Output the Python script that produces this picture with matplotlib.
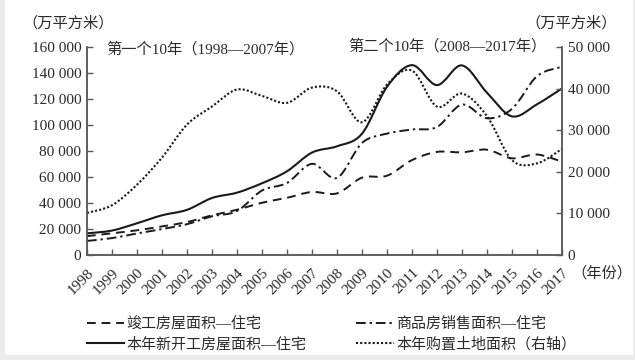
import numpy as np
import matplotlib
matplotlib.use("Agg")
import matplotlib.pyplot as plt
from matplotlib.path import Path
from matplotlib.patches import PathPatch, Rectangle
from matplotlib.lines import Line2D

plt.rcParams['font.family'] = ['Liberation Serif', 'Noto Sans CJK SC', 'DejaVu Sans']

years = list(range(1998, 2018))
# 万平方米
completed = [14500, 16700, 19000, 22000, 25300, 30500, 34800, 40200, 44000, 48500,
             47400, 59500, 61000, 73000, 79300, 79000, 81000, 74400, 77300, 71800]
sales = [10827, 12998, 16570, 19939, 23702, 29779, 33820, 49588, 55423, 70136,
         59280, 86185, 93377, 96528, 98468, 115723, 105188, 112406, 137540, 144789]
new_start = [16638, 18798, 24401, 30533, 34719, 43854, 47949, 55185, 64404, 78796,
             83642, 93298, 129359, 146035, 130695, 145845, 124877, 106651, 115911, 128098]
land = [10109, 11959, 16905, 23409, 31357, 35697, 39785, 38254, 36574, 40246,
        39353, 31910, 40970, 44327, 35667, 38814, 33383, 22811, 22025, 25508]

labels = ["竣工房屋面积—住宅", "本年新开工房屋面积—住宅",
          "商品房销售面积—住宅", "本年购置土地面积（右轴）"]

INK = "#1a1a1a"
GRAY = "#5a5a5a"


def smooth_path(xs, ys):
    # catmull-rom through the points, drawn as bezier curves
    p = np.column_stack([xs, ys]).astype(float)
    p = np.vstack([p[0], p, p[-1]])
    verts = [p[1]]
    codes = [Path.MOVETO]
    for i in range(1, len(p) - 2):
        c1 = p[i] + (p[i + 1] - p[i - 1]) / 6.0
        c2 = p[i + 1] - (p[i + 2] - p[i]) / 6.0
        verts += [c1, c2, p[i + 1]]
        codes += [Path.CURVE4] * 3
    return Path(verts, codes)


fig = plt.figure(figsize=(6.35, 3.6), dpi=100)
fig.patch.set_facecolor("#ececec")
fig.patches.append(Rectangle((0.008, 0.014), 0.989, 0.986, transform=fig.transFigure,
                             facecolor="white", edgecolor="none", zorder=-1))

ax = fig.add_axes([0.137, 0.2917, 0.748, 0.5777])
ax.set_facecolor("none")
ax2 = ax.twinx()

styles = {
    "completed": dict(linestyle=(0, (4.5, 3)), linewidth=1.4),
    "new_start": dict(linestyle="-", linewidth=1.5),
    "sales": dict(linestyle=(0, (5, 2, 1.2, 2)), linewidth=1.4),
    "land": dict(linestyle=(0, (1, 1)), linewidth=1.5),
}

ax.add_patch(PathPatch(smooth_path(years, completed), fill=False, edgecolor=INK, **styles["completed"]))
ax.add_patch(PathPatch(smooth_path(years, sales), fill=False, edgecolor=INK, **styles["sales"]))
ax.add_patch(PathPatch(smooth_path(years, new_start), fill=False, edgecolor=INK, **styles["new_start"]))
ax2.add_patch(PathPatch(smooth_path(years, land), fill=False, edgecolor=INK, **styles["land"]))

ax.set_xlim(1998, 2017)
ax.set_ylim(0, 160000)
ax2.set_ylim(0, 50000)

ax.set_yticks(range(0, 160001, 20000))
ax.set_yticklabels(["0" if v == 0 else f"{v // 1000} 000" for v in range(0, 160001, 20000)])
ax2.set_yticks(range(0, 50001, 10000))
ax2.set_yticklabels(["0" if v == 0 else f"{v // 1000} 000" for v in range(0, 50001, 10000)])
ax.set_xticks(years)
ax.set_xticklabels([str(y) for y in years], rotation=45, ha="right", va="top",
                   rotation_mode="anchor")

for a in (ax, ax2):
    a.spines["top"].set_visible(False)
    for s in ("left", "right", "bottom"):
        a.spines[s].set_color(GRAY)
        a.spines[s].set_linewidth(1.1)
    a.tick_params(direction="in", length=4.5, width=1.0, color=GRAY,
                  labelsize=11, labelcolor="#2a2a2a", pad=4)
ax.tick_params(axis="x", pad=8)

fig.text(0.036, 0.935, "（万平方米）", fontsize=11, color="#2a2a2a", va="center")
fig.text(0.828, 0.935, "（万平方米）", fontsize=11, color="#2a2a2a", va="center")
fig.text(0.90, 0.242, "（年份）", fontsize=11, color="#2a2a2a", va="center")
fig.text(0.168, 0.864, "第一个10年（1998—2007年）", fontsize=11, color="#2a2a2a", va="center")
fig.text(0.548, 0.872, "第二个10年（2008—2017年）", fontsize=11, color="#2a2a2a", va="center")

handles = [
    Line2D([], [], color=INK, **styles["completed"]),
    Line2D([], [], color=INK, **styles["new_start"]),
    Line2D([], [], color=INK, **styles["sales"]),
    Line2D([], [], color=INK, **styles["land"]),
]
fig.legend(handles, labels, ncol=2, loc="upper left", bbox_to_anchor=(0.137, 0.121),
           frameon=False, fontsize=10.8, handlelength=2.5, handletextpad=0.15,
           columnspacing=3.3, labelspacing=0.4, borderpad=0, borderaxespad=0,
           labelcolor="#2a2a2a")

fig.savefig("out.png", dpi=100)
